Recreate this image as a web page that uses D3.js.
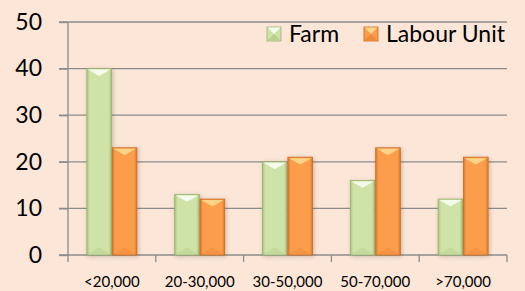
<!DOCTYPE html>
<html>
<head>
<meta charset="utf-8">
<script src="https://d3js.org/d3.v7.min.js"></script>
<style>
  body { margin: 0; background: #fce6d8; }
  svg { display: block; font-family: Lato, "Liberation Sans", sans-serif; }
</style>
</head>
<body>
<div id="chart"></div>
<script>
  const categories = ['<20,000', '20-30,000', '30-50,000', '50-70,000', '>70,000'];
  const seriesNames = ['Farm', 'Labour Unit'];
  const farm = [40, 13, 20, 16, 12];
  const labour = [23, 12, 21, 23, 21];
  const yTicks = [0, 10, 20, 30, 40, 50];

  const W = 525, H = 291;
  const pLeft = 68, pRight = 507, pTop = 22, pBottom = 255;

  const svg = d3.select('#chart').append('svg').attr('width', W).attr('height', H);

  const defs = svg.append('defs');
  const looks = [
    { id: 'g', edge: '#a9c47f', mid: '#cfe2a8', top: '#f6fced', bot: '#b9d08f', stroke: '#98b26c' },
    { id: 'o', edge: '#e07a2a', mid: '#fb9d4c', top: '#fed68a', bot: '#ef8a38', stroke: '#c8691f' }
  ];
  looks.forEach(l => {
    const gr = defs.append('linearGradient').attr('id', 'grad' + l.id).attr('x1', 0).attr('x2', 1).attr('y1', 0).attr('y2', 0);
    gr.append('stop').attr('offset', 0).attr('stop-color', l.edge);
    gr.append('stop').attr('offset', 0.12).attr('stop-color', l.mid);
    gr.append('stop').attr('offset', 0.88).attr('stop-color', l.mid);
    gr.append('stop').attr('offset', 1).attr('stop-color', l.edge);
  });
  const f = defs.append('filter').attr('id', 'shadow').attr('x', -0.3).attr('y', -0.1).attr('width', 1.6).attr('height', 1.2);
  f.append('feDropShadow').attr('dx', 1).attr('dy', 1).attr('stdDeviation', 2).attr('flood-color', '#000').attr('flood-opacity', 0.22);

  const x = d3.scaleBand().domain(categories).range([pLeft, pRight]).paddingInner(0.43).paddingOuter(0.215);
  const xs = d3.scaleBand().domain(seriesNames).range([0, x.bandwidth()]).paddingInner(0.03);
  const y = d3.scaleLinear().domain([0, 50]).range([pBottom, pTop]);

  // gridlines
  svg.append('g').selectAll('line').data(yTicks.slice(1)).join('line')
    .attr('x1', pLeft - 9).attr('x2', pRight).attr('y1', d => y(d)).attr('y2', d => y(d))
    .attr('stroke', '#8c8c8c').attr('stroke-width', 1.3);

  // y axis
  const yAxis = svg.append('g').attr('transform', 'translate(' + pLeft + ',0)')
    .call(d3.axisLeft(y).tickValues(yTicks).tickSize(9).tickPadding(17));
  yAxis.select('.domain').attr('stroke', '#8c8c8c').attr('stroke-width', 1.3).attr('d', 'M-9,' + pBottom + 'H0V' + pTop);
  yAxis.selectAll('.tick line').attr('stroke', '#8c8c8c').attr('stroke-width', 1.3);
  yAxis.selectAll('.tick text').attr('fill', '#000').style('font-size', '23px').style('font-family', 'Lato, sans-serif');

  // x axis
  const xAxis = svg.append('g').attr('transform', 'translate(0,' + pBottom + ')');
  xAxis.append('line').attr('x1', pLeft).attr('x2', pRight).attr('stroke', '#8c8c8c').attr('stroke-width', 1.3);
  const step = x.step();
  xAxis.selectAll('line.t').data(d3.range(categories.length + 1)).join('line').attr('class', 't')
    .attr('x1', i => pLeft + i * step).attr('x2', i => pLeft + i * step).attr('y1', 0).attr('y2', 7)
    .attr('stroke', '#8c8c8c').attr('stroke-width', 1.3);
  xAxis.selectAll('text').data(categories).join('text')
    .attr('x', d => x(d) + x.bandwidth() / 2).attr('y', 32).attr('text-anchor', 'middle')
    .style('font-size', '15px').attr('fill', '#000').text(d => d);

  function drawBar(g, bx, bw, val, look) {
    const y0 = y(val), y1 = y(0), h = y1 - y0;
    const c = g.append('g').attr('filter', 'url(#shadow)');
    c.append('rect').attr('x', bx).attr('y', y0).attr('width', bw).attr('height', h)
      .attr('fill', 'url(#grad' + look.id + ')').attr('stroke', look.stroke).attr('stroke-width', 0.8);
    const t = Math.min(bw * 0.3, h / 2);
    c.append('path').attr('d', 'M' + (bx + 1) + ',' + (y0 + 1) + 'H' + (bx + bw - 1) + 'L' + (bx + bw / 2) + ',' + (y0 + t) + 'Z')
      .attr('fill', look.top).attr('opacity', 0.95);
    c.append('path').attr('d', 'M' + (bx + 1) + ',' + (y1 - 0.5) + 'H' + (bx + bw - 1) + 'L' + (bx + bw / 2) + ',' + (y1 - t) + 'Z')
      .attr('fill', look.bot).attr('opacity', 0.5);
  }

  const bars = svg.append('g');
  categories.forEach((c, i) => {
    drawBar(bars, x(c) + xs('Farm'), xs.bandwidth(), farm[i], looks[0]);
    drawBar(bars, x(c) + xs('Labour Unit'), xs.bandwidth(), labour[i], looks[1]);
  });

  // legend
  const legend = svg.append('g').attr('transform', 'translate(267,27)');
  const legX = [0, 97];
  seriesNames.forEach((n, i) => {
    const l = looks[i];
    const g = legend.append('g').attr('transform', 'translate(' + legX[i] + ',0)');
    g.append('rect').attr('width', 14).attr('height', 14).attr('fill', l.mid).attr('stroke', l.stroke).attr('stroke-width', 0.8);
    g.append('path').attr('d', 'M0.5,0.5H13.5L7,7Z').attr('fill', l.top);
    g.append('path').attr('d', 'M0.5,13.5H13.5L7,7Z').attr('fill', l.bot);
    g.append('text').attr('x', 22).attr('y', 15).style('font-size', '23px').attr('fill', '#000').text(n);
  });
</script>
</body>
</html>
